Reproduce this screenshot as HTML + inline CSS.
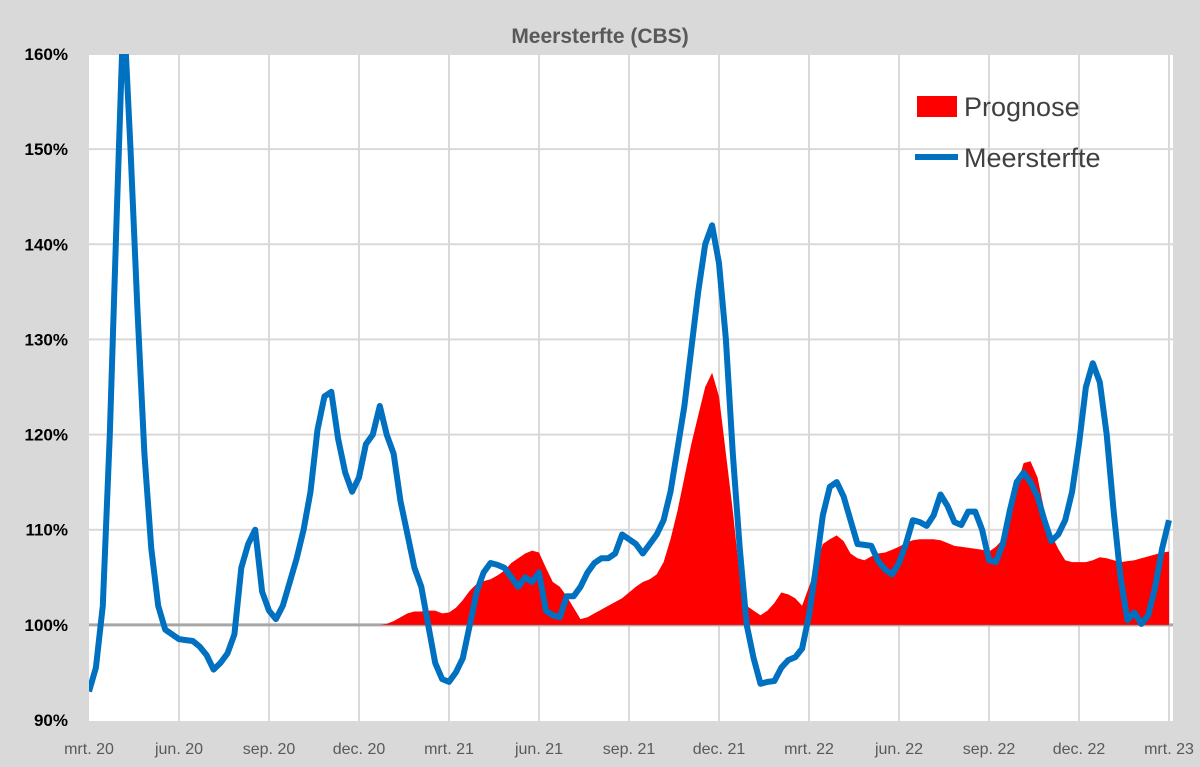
<!DOCTYPE html>
<html><head><meta charset="utf-8"><style>
html,body{margin:0;padding:0;background:#d9d9d9;}
svg{display:block;font-family:"Liberation Sans",sans-serif;}
</style></head><body>
<svg id="chart" width="1200" height="767" xmlns="http://www.w3.org/2000/svg">
<rect x="0" y="0" width="1200" height="767" fill="#d9d9d9"/>
<text x="600" y="43" text-anchor="middle" font-size="21" font-weight="bold" fill="#595959">Meersterfte (CBS)</text>
<defs><clipPath id="plotclip"><rect x="89" y="54" width="1084" height="667"/></clipPath></defs>
<rect x="89" y="54" width="1084" height="667" fill="#ffffff"/>
<g id="grid"></g>
<g id="yaxis"></g>
<g id="xaxis"></g>
<g id="series" clip-path="url(#plotclip)"></g>
<g>
<rect x="917" y="96" width="40" height="21" fill="#ff0000"/>
<text x="964" y="116" font-size="27" fill="#404040">Prognose</text>
<line x1="915" y1="157" x2="958" y2="157" stroke="#0070c0" stroke-width="6"/>
<text x="964" y="167" font-size="27" fill="#404040">Meersterfte</text>
</g>
</svg>
<script>
const xTickLabels=["mrt. 20","jun. 20","sep. 20","dec. 20","mrt. 21","jun. 21","sep. 21","dec. 21","mrt. 22","jun. 22","sep. 22","dec. 22","mrt. 23"];
const yTicks=[90,100,110,120,130,140,150,160];
const meersterfte=[93,95.5,102,120,143,165,150,133,118,108,102,99.5,99,98.5,98.4,98.3,97.7,96.8,95.3,96,97,99,106,108.5,110,103.5,101.5,100.6,102,104.5,107,110,114,120.5,124,124.5,119.5,116,114,115.5,119,120,123,120,118,113,109.5,106,104,100,96,94.3,94,95,96.5,100,103.5,105.5,106.5,106.3,106,105,104,105,104.5,105.5,101.5,101,100.8,103,103,104,105.5,106.5,107,107,107.5,109.5,109,108.5,107.5,108.5,109.5,111,114,118.5,123,129,135,140,142,138,130,118,108,100,96.5,93.8,94,94.1,95.5,96.3,96.6,97.5,101,106,111.5,114.5,115,113.5,111,108.5,108.4,108.3,106.7,105.8,105.3,106.5,108.5,111,110.8,110.4,111.5,113.7,112.5,110.8,110.5,111.9,111.9,110,106.8,106.6,108.5,112,115,116,115,113.5,111,108.8,109.5,111,114,119,125,127.5,125.5,120,112,105,100.5,101.3,100.1,101,104,108,111];
const prognoseStart=42;
const prognose=[100,100.1,100.4,100.8,101.2,101.4,101.4,101.5,101.5,101.2,101.3,101.8,102.6,103.6,104.3,104.6,104.8,105.2,105.7,106.5,107,107.5,107.8,107.6,106,104.5,104,103,101.8,100.6,100.8,101.2,101.6,102,102.4,102.8,103.4,104,104.5,104.8,105.3,106.6,109,112,115.5,119,122,125,126.5,124,118,112,105,102,101.5,101,101.5,102.3,103.4,103.2,102.8,102,104,106,108.5,109,109.4,108.8,107.5,107,106.8,107.2,107.5,107.6,107.9,108.2,108.6,108.9,109,109,109,108.9,108.6,108.3,108.2,108.1,108,107.9,107.7,108.2,109,111,114.5,117,117.2,115.5,112,109.5,108,106.8,106.6,106.6,106.6,106.8,107.1,107,106.8,106.6,106.7,106.8,107,107.2,107.4,107.6,107.7];
const NS="http://www.w3.org/2000/svg";
const X0=89,WEEK=90/13,YTOP=54,YBOT=720;
function xs(i){return X0+i*WEEK;}
function ys(v){return YBOT-(v-90)/70*(YBOT-YTOP);}
function mk(t,a,p){const e=document.createElementNS(NS,t);for(const k in a)e.setAttribute(k,a[k]);p.appendChild(e);return e;}
const grid=document.getElementById('grid'),yax=document.getElementById('yaxis'),xax=document.getElementById('xaxis'),ser=document.getElementById('series');
yTicks.forEach(v=>{
  if(v!==90&&v!==100){const l=mk('line',{x1:X0,x2:1173,y1:ys(v),y2:ys(v),stroke:'#d9d9d9','stroke-width':2},grid);
  
  }
  const t=mk('text',{x:68,y:ys(v)+6,'text-anchor':'end','font-size':17,'font-weight':'bold',fill:'#000'},yax);
  t.textContent=v+'%';
  
  
});
xTickLabels.forEach((s,k)=>{
  const x=xs(k*13);
  if(k>0){const l=mk('line',{x1:x,x2:x,y1:YTOP,y2:721,stroke:'#d9d9d9','stroke-width':2},grid);
  
  }
  const t=mk('text',{x:x,y:754,'text-anchor':'middle','font-size':16,fill:'#595959'},xax);
  t.textContent=s;
  
  
});
const base=mk('line',{x1:X0,x2:1173,y1:ys(100),y2:ys(100),stroke:'#a6a6a6','stroke-width':3},ser);


let d='M'+xs(prognoseStart)+','+ys(100);
prognose.forEach((v,j)=>{d+=' L'+xs(prognoseStart+j).toFixed(1)+','+ys(v).toFixed(1);});
d+=' L'+xs(prognoseStart+prognose.length-1).toFixed(1)+','+ys(100)+' Z';
const area=mk('path',{d:d,fill:'#ff0000'},ser);


const pts=meersterfte.map((v,i)=>xs(i).toFixed(1)+','+ys(v).toFixed(1)).join(' ');
const line=mk('polyline',{points:pts,fill:'none',stroke:'#0070c0','stroke-width':6,'stroke-linejoin':'round'},ser);


</script>
</body></html>
